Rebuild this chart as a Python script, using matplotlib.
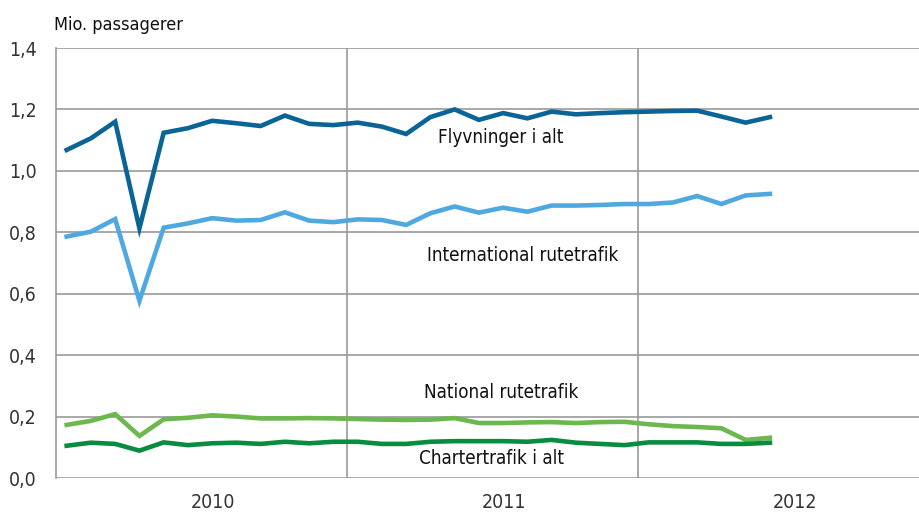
import numpy as np
import matplotlib.pyplot as plt

# monthly values Jan 2010 - Jun 2012, mio. passengers
flyvninger = [1.068, 1.106, 1.160, 0.813, 1.124, 1.139, 1.163, 1.155, 1.146, 1.180,
              1.153, 1.149, 1.157, 1.144, 1.120, 1.175, 1.200, 1.166, 1.188, 1.171,
              1.193, 1.184, 1.188, 1.191, 1.193, 1.195, 1.196, 1.177, 1.157, 1.175]
international = [0.786, 0.802, 0.843, 0.577, 0.815, 0.829, 0.846, 0.838, 0.840, 0.865,
                 0.838, 0.833, 0.842, 0.840, 0.824, 0.862, 0.884, 0.864, 0.880, 0.867,
                 0.887, 0.887, 0.889, 0.892, 0.892, 0.897, 0.918, 0.892, 0.920, 0.925]
national = [0.173, 0.186, 0.208, 0.137, 0.191, 0.196, 0.204, 0.200, 0.194, 0.194,
            0.195, 0.194, 0.192, 0.190, 0.189, 0.190, 0.195, 0.179, 0.179, 0.181,
            0.182, 0.179, 0.182, 0.183, 0.175, 0.169, 0.166, 0.162, 0.124, 0.131]
charter = [0.105, 0.115, 0.111, 0.089, 0.116, 0.107, 0.113, 0.115, 0.111, 0.118,
           0.113, 0.118, 0.118, 0.111, 0.111, 0.118, 0.120, 0.120, 0.120, 0.118,
           0.124, 0.115, 0.111, 0.107, 0.116, 0.116, 0.116, 0.111, 0.111, 0.115]

years = ["2010", "2011", "2012"]
series_names = ["Flyvninger i alt", "International rutetrafik",
                "National rutetrafik", "Chartertrafik i alt"]
colors = ["#0a6496", "#4fa8e0", "#6cb84e", "#078c40"]

plt.rcParams['font.family'] = ['DejaVu Sans']
plt.rcParams['font.stretch'] = 'condensed'

fig = plt.figure(figsize=(9.2, 5.14), dpi=100)
ax = fig.add_axes([56 / 920, 1 - 478 / 514, 1 - 56 / 920, 430 / 514])

months = np.arange(len(flyvninger))
for vals, c in zip([flyvninger, international, national, charter], colors):
    ax.plot(months, vals, color=c, lw=3.3, solid_joinstyle='miter', zorder=3)

ax.set_xlim(-0.44, 35.19)
ax.set_ylim(0, 1.4)
ax.set_yticks(np.arange(0, 1.41, 0.2))
ax.set_yticklabels([f"{v:.1f}".replace(".", ",") for v in np.arange(0, 1.41, 0.2)])
ax.grid(axis='y', color='#999999', lw=1.2)
ax.set_axisbelow(True)

# year boundaries
for b in [11.56, 23.56]:
    ax.axvline(b, color='#999999', lw=1.2, zorder=1)

ax.set_xticks([6.04, 18.04, 30.04])
ax.set_xticklabels(years)
ax.tick_params(length=0, labelsize=14, colors='#333333')
ax.tick_params(axis='y', pad=14)
ax.tick_params(axis='x', pad=11)

for s in ['top', 'right', 'bottom']:
    ax.spines[s].set_visible(False)
ax.spines['left'].set_color('#999999')
ax.spines['left'].set_linewidth(1.2)

label_pos = [(17.9, 1.107), (18.8, 0.726), (17.9, 0.277), (17.5, 0.062)]
for name, (x, y) in zip(series_names, label_pos):
    ax.text(x, y, name, ha='center', va='center', fontsize=13.5, color='#111111')

fig.text(54 / 920, 1 - 25 / 514, "Mio. passagerer", ha='left', va='center',
         fontsize=13, color='#111111')

fig.savefig("out.png", dpi=100)
